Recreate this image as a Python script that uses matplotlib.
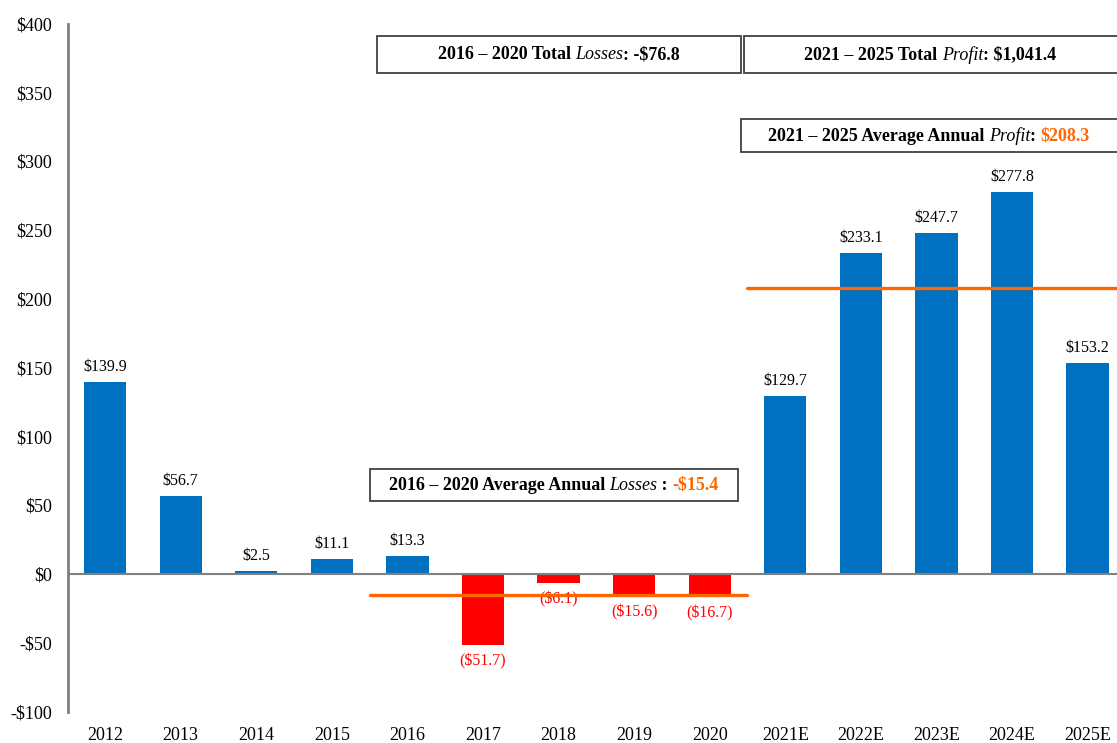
import matplotlib
matplotlib.use("Agg")
import matplotlib.pyplot as plt
from matplotlib.patches import Rectangle
from matplotlib.offsetbox import TextArea, HPacker, AnnotationBbox

BLUE, RED, ORANGE, GRAY = "#0070C0", "#FF0000", "#FF6600", "#808080"

plt.rcParams.update({"font.family": ["Liberation Serif", "DejaVu Serif"], "font.size": 12})

years = ["2012", "2013", "2014", "2015", "2016", "2017", "2018", "2019", "2020",
         "2021E", "2022E", "2023E", "2024E", "2025E"]
values = [139.9, 56.7, 2.5, 11.1, 13.3, -51.7, -6.1, -15.6, -16.7,
          129.7, 233.1, 247.7, 277.8, 153.2]
avg_loss_1620 = -15.4
avg_profit_2125 = 208.3
yticks = [-100, -50, 0, 50, 100, 150, 200, 250, 300, 350, 400]

fig = plt.figure(figsize=(11.17, 7.43), dpi=100)
ax = fig.add_axes([0.061, 0.042, 0.939, 0.926])

x = range(len(years))
colors = [BLUE if v >= 0 else RED for v in values]
ax.bar(x, values, width=0.56, color=colors, zorder=2)

# data labels
for i, v in enumerate(values):
    if v >= 0:
        ax.annotate(f"${v:,.1f}", (i, v), xytext=(0, 5), textcoords="offset points",
                    ha="center", va="bottom", fontsize=11.5)
    else:
        ax.annotate(f"(${-v:,.1f})", (i, v), xytext=(0, -6), textcoords="offset points",
                    ha="center", va="top", fontsize=11.5, color=RED)

# zero line and average lines
ax.axhline(0, color=GRAY, lw=1.5, zorder=3)
ax.plot([3.5, 8.5], [avg_loss_1620] * 2, color=ORANGE, lw=2.4, zorder=4, solid_capstyle="round")
ax.plot([8.5, 14], [avg_profit_2125] * 2, color=ORANGE, lw=2.4, zorder=4, solid_capstyle="round",
        clip_on=False)

ax.set_xlim(-0.49, 13.39)
ax.set_ylim(-100, 400)
ax.set_yticks(yticks)
ax.set_yticklabels([f"${t}" if t >= 0 else f"-${-t}" for t in yticks])
ax.set_xticks(list(x))
ax.set_xticklabels(years)
ax.tick_params(axis="both", length=0, labelsize=13)
ax.tick_params(axis="y", pad=11.5)
ax.tick_params(axis="x", pad=11)
for s in ["top", "right", "bottom"]:
    ax.spines[s].set_visible(False)
ax.spines["left"].set_color(GRAY)
ax.spines["left"].set_linewidth(2)


def text_box(x0, x1, y0, y1, pieces):
    ax.add_patch(Rectangle((x0, y0), x1 - x0, y1 - y0, fill=True, facecolor="white",
                           edgecolor="#404040", lw=1.3, clip_on=False, zorder=5))
    areas = []
    for txt, style, col in pieces:
        areas.append(TextArea(txt, textprops=dict(fontsize=13, fontweight="bold" if style != "italic" else "normal",
                                                  fontstyle="italic" if style == "italic" else "normal",
                                                  color=col)))
    pack = HPacker(children=areas, align="baseline", pad=0, sep=0)
    ab = AnnotationBbox(pack, ((x0 + min(x1, 13.39)) / 2, (y0 + y1) / 2), xycoords="data",
                        frameon=False, box_alignment=(0.5, 0.5), annotation_clip=False, zorder=6)
    ax.add_artist(ab)


text_box(3.6, 8.41, 364, 391, [("2016 – 2020 Total ", "bold", "black"), ("Losses", "italic", "black"),
                               (": -$76.8", "bold", "black")])
text_box(8.45, 14.0, 364, 391, [("2021 – 2025 Total ", "bold", "black"), ("Profit", "italic", "black"),
                                (": $1,041.4", "bold", "black")])
text_box(8.41, 14.0, 306.7, 330.7, [("2021 – 2025 Average Annual ", "bold", "black"), ("Profit", "italic", "black"),
                                    (": ", "bold", "black"), ("$208.3", "bold", ORANGE)])
text_box(3.5, 8.37, 53, 76.3, [("2016 – 2020 Average Annual ", "bold", "black"), ("Losses", "italic", "black"),
                               (" : ", "bold", "black"), ("-$15.4", "bold", ORANGE)])

fig.savefig("out.png", dpi=100, facecolor="white")
